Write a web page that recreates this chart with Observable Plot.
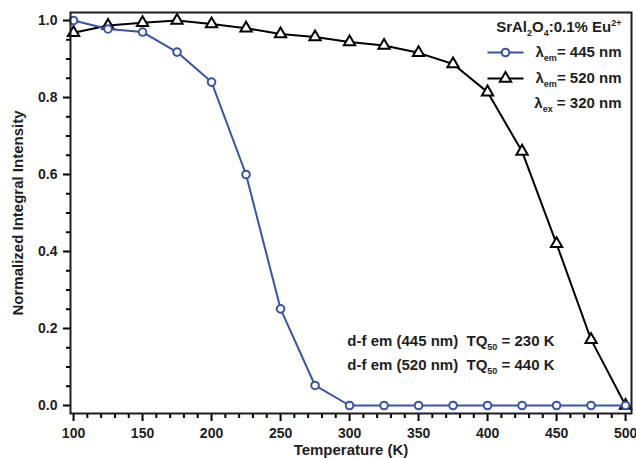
<!DOCTYPE html>
<html>
<head>
<meta charset="utf-8">
<script src="https://cdn.jsdelivr.net/npm/d3@7"></script>
<script src="https://cdn.jsdelivr.net/npm/@observablehq/plot@0.6"></script>
<style>
  html, body { margin: 0; padding: 0; background: #fff; }
</style>
</head>
<body>
<div id="chart"></div>
<script>
// ---- data ----
const temps = [100, 125, 150, 175, 200, 225, 250, 275, 300, 325, 350, 375, 400, 425, 450, 475, 500];
const em445 = [1.0, 0.978, 0.97, 0.918, 0.84, 0.60, 0.251, 0.052, 0, 0, 0, 0, 0, 0, 0, 0, 0];
const em520 = [0.968, 0.987, 0.994, 1.0, 0.991, 0.98, 0.965, 0.957, 0.944, 0.935, 0.916, 0.887, 0.814, 0.66, 0.42, 0.171, 0.0];
const xMajorTicks = [100, 150, 200, 250, 300, 350, 400, 450, 500];
const xMinorTicks = d3.range(100, 501, 10).filter(v => v % 50 !== 0);
const yMajorTicks = [0, 0.2, 0.4, 0.6, 0.8, 1.0];
const yMinorTicks = d3.range(0, 21).filter(i => i % 4 !== 0).map(i => i * 0.05);
const legendTitle = "SrAl_{2}O_{4}:0.1% Eu^{2+}";
const legendLabels = ["λ_{em}= 445 nm", "λ_{em}= 520 nm", "λ_{ex} = 320 nm"];
const notes = ["d-f em (445 nm)  TQ_{50} = 230 K", "d-f em (520 nm)  TQ_{50} = 440 K"];
const xTitle = "Temperature (K)";
const yTitle = "Normalized Integral Intensity";

const blue = "#3a53a4";
const ink = "#1e1e1e";

const d445 = temps.map((t, i) => ({t, v: em445[i]}));
const d520 = temps.map((t, i) => ({t, v: em520[i]}));

const swatchLine = { draw(ctx) { ctx.moveTo(-18, 0); ctx.lineTo(18, 0); } };
const one = [0];
const txt = { fontSize: 15, fill: ink, lineAnchor: "middle" };

const chart = Plot.plot({
  width: 636,
  height: 458,
  marginLeft: 70,
  marginRight: 5,
  marginTop: 12,
  marginBottom: 45,
  style: { fontFamily: "'Liberation Sans', Arial, sans-serif", fontWeight: "bold", fontSize: "14px", color: ink, background: "#fff" },
  x: { domain: [97.8, 504.3] },
  y: { domain: [-0.0208, 1.0208] },
  marks: [
    // axes: minor ticks, then major ticks with labels
    Plot.axisX(xMinorTicks, { tickSize: 5, stroke: "#000", strokeWidth: 2, tickFormat: () => "", label: null }),
    Plot.axisX(xMajorTicks, { tickSize: 8, tickPadding: 7, stroke: "#000", strokeWidth: 2, fill: ink, fontSize: 14, label: null, tickFormat: d3.format("d") }),
    Plot.axisY(yMinorTicks, { tickSize: 4, stroke: "#000", strokeWidth: 2, tickFormat: () => "", label: null }),
    Plot.axisY(yMajorTicks, { tickSize: 7, tickPadding: 6, stroke: "#000", strokeWidth: 2, fill: ink, fontSize: 14, label: null, tickFormat: d3.format(".1f") }),
    Plot.text(one, { ...txt, text: () => xTitle, frameAnchor: "bottom", textAnchor: "middle", dy: 37 }),
    Plot.text(one, { ...txt, text: () => yTitle, frameAnchor: "left", textAnchor: "middle", dx: -52, rotate: -90 }),
    Plot.line(d520, { x: "t", y: "v", stroke: "#000", strokeWidth: 2 }),
    Plot.dot(d520, { x: "t", y: "v", symbol: "triangle", r: 4.2, fill: "#fff", stroke: "#000", strokeWidth: 2 }),
    Plot.line(d445, { x: "t", y: "v", stroke: blue, strokeWidth: 2 }),
    Plot.dot(d445, { x: "t", y: "v", symbol: "circle", r: 3.8, fill: "#fff", stroke: blue, strokeWidth: 2 }),
    // legend
    Plot.text(one, { ...txt, text: () => legendTitle, frameAnchor: "top-right", textAnchor: "end", dx: -10, dy: 15 }),
    Plot.dot(one, { frameAnchor: "top-right", dx: -126, dy: 40, symbol: swatchLine, stroke: blue, strokeWidth: 2, r: 1 }),
    Plot.dot(one, { frameAnchor: "top-right", dx: -126, dy: 40, symbol: "circle", r: 3.8, fill: "#fff", stroke: blue, strokeWidth: 2 }),
    Plot.text(one, { ...txt, text: () => legendLabels[0], frameAnchor: "top-right", textAnchor: "end", dx: -10, dy: 40 }),
    Plot.dot(one, { frameAnchor: "top-right", dx: -126, dy: 66, symbol: swatchLine, stroke: "#000", strokeWidth: 2, r: 1 }),
    Plot.dot(one, { frameAnchor: "top-right", dx: -126, dy: 66, symbol: "triangle", r: 4.2, fill: "#fff", stroke: "#000", strokeWidth: 2 }),
    Plot.text(one, { ...txt, text: () => legendLabels[1], frameAnchor: "top-right", textAnchor: "end", dx: -10, dy: 66 }),
    Plot.text(one, { ...txt, text: () => legendLabels[2], frameAnchor: "top-right", textAnchor: "end", dx: -10, dy: 91 }),
    // annotations
    Plot.text(one, { ...txt, text: () => notes[0], frameAnchor: "bottom-right", textAnchor: "end", dx: -77, dy: -72 }),
    Plot.text(one, { ...txt, text: () => notes[1], frameAnchor: "bottom-right", textAnchor: "end", dx: -77, dy: -48 }),
    Plot.frame({ stroke: ink, strokeWidth: 2 })
  ]
});

// rich text: _{sub} and ^{sup}
chart.querySelectorAll("text").forEach(t => {
  const s = t.textContent;
  if (!/[_^]\{/.test(s)) return;
  while (t.firstChild) t.removeChild(t.firstChild);
  t.style.whiteSpace = "pre";
  const re = /([_^])\{([^}]*)\}/g;
  let last = 0, shift = 0, m;
  const add = (str, kind) => {
    if (!str) return;
    const ts = document.createElementNS("http://www.w3.org/2000/svg", "tspan");
    let target = 0;
    if (kind === "_") { target = 4; ts.setAttribute("font-size", "9"); }
    else if (kind === "^") { target = -6; ts.setAttribute("font-size", "9"); }
    if (target !== shift) { ts.setAttribute("dy", target - shift); shift = target; }
    ts.textContent = str;
    t.appendChild(ts);
  };
  while ((m = re.exec(s))) {
    add(s.slice(last, m.index), "");
    add(m[2], m[1]);
    last = re.lastIndex;
  }
  add(s.slice(last), "");
});

document.getElementById("chart").appendChild(chart);
</script>
</body>
</html>
